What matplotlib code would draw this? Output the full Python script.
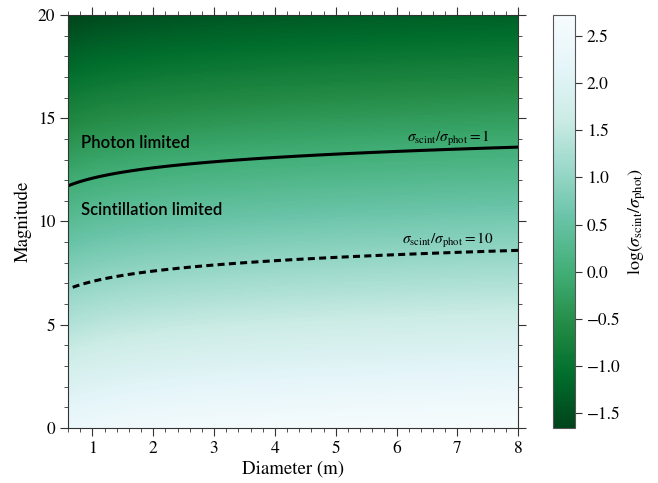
import numpy as np
import matplotlib
matplotlib.use("Agg")
import matplotlib.pyplot as plt
from matplotlib.ticker import MultipleLocator

plt.rcParams['font.family'] = ['STIXGeneral', 'DejaVu Serif']
plt.rcParams['mathtext.fontset'] = 'stix'

# scaling: sigma_scint ~ D^(-2/3), sigma_phot ~ 10^(0.2 m) / D
diam_range = [0.6, 8.0]
mag_range = [0.0, 20.0]
log_const = 2.419        # log ratio at D = 1 m, m = 0
diam_power = 1.0 / 3.0
mag_slope = -0.2
contour_levels = [0, 1]
contour_labels = [r'$\sigma_{\rm scint}/\sigma_{\rm phot} = 1$',
                  r'$\sigma_{\rm scint}/\sigma_{\rm phot} = 10$']

diam = np.linspace(diam_range[0], diam_range[1], 300)
mag = np.linspace(mag_range[0], mag_range[1], 300)
D, M = np.meshgrid(diam, mag)
log_ratio = log_const + diam_power * np.log10(D) + mag_slope * M

spine_col = '#333333'
fig = plt.figure(figsize=(6.58, 4.83), dpi=100)
ax = fig.add_axes([0.1035, 0.114, 0.684, 0.855])
cax = fig.add_axes([0.840, 0.114, 0.034, 0.855])

mesh = ax.pcolormesh(D, M, log_ratio, cmap='BuGn_r', shading='auto',
                     rasterized=True)
ax.contour(D, M, log_ratio, levels=contour_levels, colors='k',
           linestyles=['solid', (0, (2.3, 1.4))], linewidths=2.2)

ax.set_xlim(diam_range)
ax.set_ylim(mag_range)
ax.xaxis.set_major_locator(MultipleLocator(1))
ax.xaxis.set_minor_locator(MultipleLocator(0.2))
ax.yaxis.set_major_locator(MultipleLocator(5))
ax.yaxis.set_minor_locator(MultipleLocator(1))
ax.tick_params(which='both', direction='out', top=True, right=True,
               labelsize=12.5, color=spine_col)
ax.tick_params(which='major', length=6)
ax.tick_params(which='minor', length=3)
for s in ax.spines.values():
    s.set_edgecolor(spine_col)
ax.set_xlabel('Diameter (m)', fontsize=13.5, labelpad=2)
ax.set_ylabel('Magnitude', fontsize=13.5)

ax.text(6.85, 14.0, contour_labels[0], ha='center', va='center', fontsize=11)
ax.text(6.85, 9.1, contour_labels[1], ha='center', va='center', fontsize=11)
sans = ['Lato', 'DejaVu Sans']
ax.text(0.82, 13.8, 'Photon limited', ha='left', va='center', fontsize=12,
        family=sans, weight='semibold')
ax.text(0.82, 10.55, 'Scintillation limited', ha='left', va='center',
        fontsize=12, family=sans, weight='semibold')

cb = fig.colorbar(mesh, cax=cax)
cb.set_ticks(np.arange(-1.5, 2.51, 0.5))
cb.ax.tick_params(labelsize=12.5, length=5, direction='out', color=spine_col)
cb.outline.set_edgecolor('#555555')
cb.set_label(r'$\log(\sigma_{\rm scint}/\sigma_{\rm phot})$', fontsize=13)

fig.savefig('out.png', dpi=100)
